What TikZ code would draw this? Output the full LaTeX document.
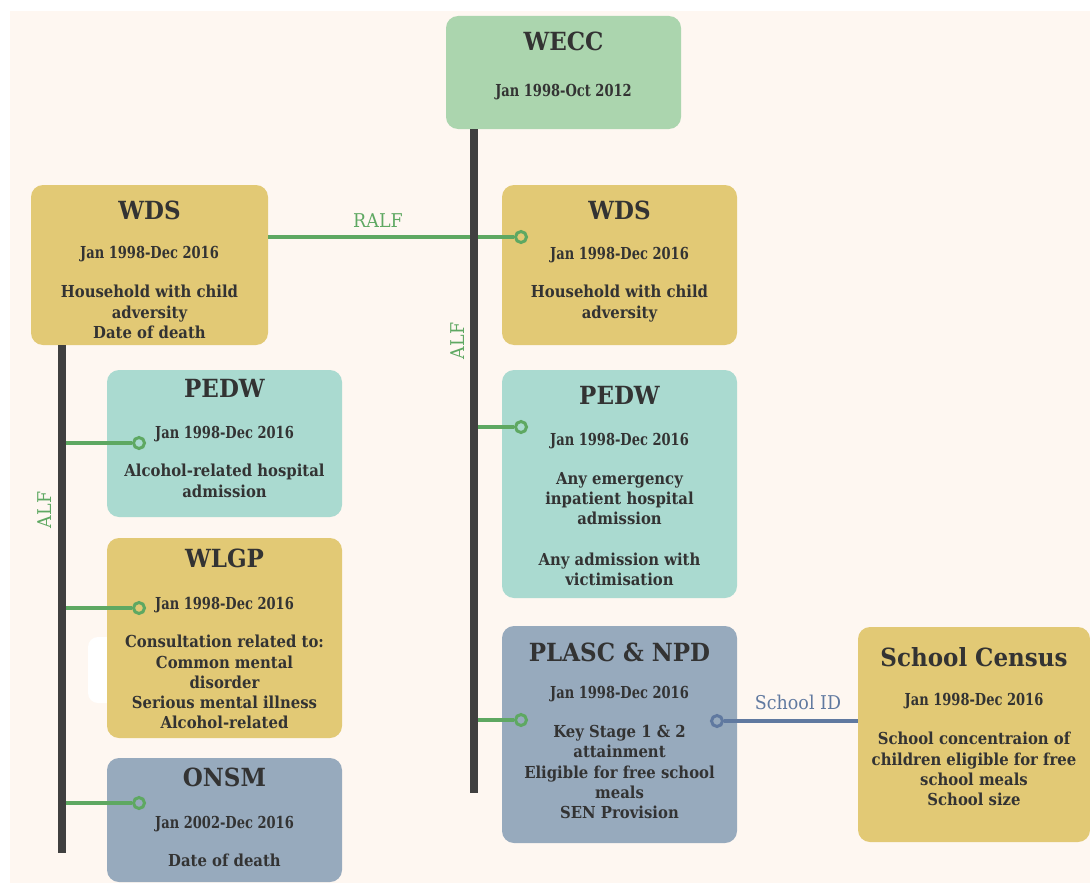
\documentclass[tikz,border=0pt]{standalone}
\usepackage{fontspec}
\newfontfamily\tfont{DejaVu Serif}[FakeStretch=0.92]
\newfontfamily\dfont{DejaVu Serif}[FakeStretch=0.79]
\newfontfamily\bfont{DejaVu Serif}[FakeStretch=0.9]
\newfontfamily\lfont{DejaVu Serif}[FakeStretch=0.92]
\definecolor{bgc}{HTML}{FEF7F1}
\definecolor{gold}{HTML}{E2C975}
\definecolor{mint}{HTML}{ABD5AE}
\definecolor{teal}{HTML}{AADAD0}
\definecolor{slate}{HTML}{97AABD}
\definecolor{spinec}{HTML}{404040}
\definecolor{gl}{HTML}{5EA862}
\definecolor{bl}{HTML}{6079A0}
\definecolor{txt}{HTML}{333333}
\tikzset{
  box/.style={rectangle, rounded corners=12pt, draw=none, inner sep=0pt},
  ttl/.style={font=\tfont\bfseries\fontsize{25}{25}\selectfont, text=txt, anchor=base, inner sep=0pt},
  dte/.style={font=\dfont\bfseries\fontsize{16.5}{18}\selectfont, text=txt, anchor=base, inner sep=0pt},
  bdy/.style={font=\bfont\bfseries\fontsize{16.5}{20.3}\selectfont, text=txt, anchor=north, inner sep=0pt, align=center},
  lbl/.style={font=\lfont\fontsize{19}{19}\selectfont, inner sep=0pt},
  ring/.style={circle, draw=#1, line width=3pt, minimum size=11pt, inner sep=0pt},
  glink/.style={draw=gl, line width=4pt},
  blink/.style={draw=bl, line width=4pt},
  spine/.style={draw=spinec, line width=7.5pt}
}
\begin{document}
\begin{tikzpicture}[x=1pt,y=-1pt]
\useasboundingbox (0,0) rectangle (1090,883);
\fill[white] (0,0) rectangle (1090,883);
\fill[bgc] (10,11) rectangle (1090,883);
\fill[white, rounded corners=10pt] (88,637) rectangle (140,703);

% boxes
\node[box, fill=mint, minimum width=235pt, minimum height=113pt] (wecc) at (563.5,72.5) {};
\node[box, fill=gold, minimum width=237pt, minimum height=160pt] (wdsL) at (149.5,265) {};
\node[box, fill=gold, minimum width=235pt, minimum height=160pt] (wdsR) at (619.5,265) {};
\node[box, fill=teal, minimum width=235pt, minimum height=147pt] (pedwL) at (224.5,443.5) {};
\node[box, fill=gold, minimum width=235pt, minimum height=200pt] (wlgp) at (224.5,638) {};
\node[box, fill=slate, minimum width=235pt, minimum height=124pt] (onsm) at (224.5,820) {};
\node[box, fill=teal, minimum width=235pt, minimum height=228pt] (pedwR) at (619.5,484) {};
\node[box, fill=slate, minimum width=235pt, minimum height=217pt] (plasc) at (619.5,734.5) {};
\node[box, fill=gold, minimum width=232pt, minimum height=215pt] (sc) at (974,734.5) {};

% texts
\node[ttl] (weccT) at (563.5,51) {WECC};
\node[dte] (weccD) at (563.5,96) {Jan 1998-Oct 2012};

\node[ttl] (wdsLT) at (149.5,219) {WDS};
\node[dte] (wdsLD) at (149.5,258) {Jan 1998-Dec 2016};
\node[bdy] (wdsLB) at (149.5,285) {Household with child\\adversity\\Date of death};

\node[ttl] (wdsRT) at (619.5,219) {WDS};
\node[dte] (wdsRD) at (619.5,259) {Jan 1998-Dec 2016};
\node[bdy] (wdsRB) at (619.5,285) {Household with child\\adversity};

\node[ttl] (pedwLT) at (224.5,397) {PEDW};
\node[dte] (pedwLD) at (224.5,438) {Jan 1998-Dec 2016};
\node[bdy] (pedwLB) at (224.5,464) {Alcohol-related hospital\\admission};

\node[ttl] (wlgpT) at (224.5,567) {WLGP};
\node[dte] (wlgpD) at (224.5,609) {Jan 1998-Dec 2016};
\node[bdy] (wlgpB) at (224.5,635) {Consultation related to:\\Common mental\\disorder\\Serious mental illness\\Alcohol-related};

\node[ttl] (onsmT) at (224.5,786) {ONSM};
\node[dte] (onsmD) at (224.5,828) {Jan 2002-Dec 2016};
\node[bdy] (onsmB) at (224.5,854) {Date of death};

\node[ttl] (pedwRT) at (619.5,404) {PEDW};
\node[dte] (pedwRD) at (619.5,445) {Jan 1998-Dec 2016};
\node[bdy] (pedwRB) at (619.5,472) {Any emergency\\inpatient hospital\\admission\\[20.3pt]Any admission with\\victimisation};

\node[ttl] (plascT) at (619.5,661) {PLASC \& NPD};
\node[dte] (plascD) at (619.5,698) {Jan 1998-Dec 2016};
\node[bdy] (plascB) at (619.5,725) {Key Stage 1 \& 2\\attainment\\Eligible for free school\\meals\\SEN Provision};

\node[ttl] (scT) at (974,666) {School Census};
\node[dte] (scD) at (974,705) {Jan 1998-Dec 2016};
\node[bdy] (scB) at (974,732) {School concentraion of\\children eligible for free\\school meals\\School size};

% spine ends
\coordinate (cEnd) at (474,793);
\coordinate (lEnd) at (62,853);

% rings
\node[ring=gl] (r1) at (521,237) {};
\node[ring=gl] (r2) at (521,427) {};
\node[ring=gl] (r3) at (521,720) {};
\node[ring=gl] (r4) at (139,443) {};
\node[ring=gl] (r5) at (139,608) {};
\node[ring=gl] (r6) at (139,803) {};
\node[ring=bl] (r7) at (717,721) {};

% links
\draw[glink] (wdsL.east |- r1) -- (r1);
\draw[glink] (r2 -| cEnd) -- (r2);
\draw[glink] (r3 -| cEnd) -- (r3);
\draw[glink] (r4 -| lEnd) -- (r4);
\draw[glink] (r5 -| lEnd) -- (r5);
\draw[glink] (r6 -| lEnd) -- (r6);
\draw[blink] (r7) -- (sc.west |- r7);

% spines
\draw[spine] (wecc.south -| cEnd) -- (cEnd);
\draw[spine] (wdsL.south -| lEnd) -- (lEnd);

% labels
\node[lbl, text=gl] (ralf) at (378,221) {RALF};
\node[lbl, text=gl, rotate=90] (alfC) at (458,341) {ALF};
\node[lbl, text=gl, rotate=90] (alfL) at (45,510) {ALF};
\node[lbl, text=bl] (sid) at (798,702) {School ID};
\end{tikzpicture}
\end{document}
